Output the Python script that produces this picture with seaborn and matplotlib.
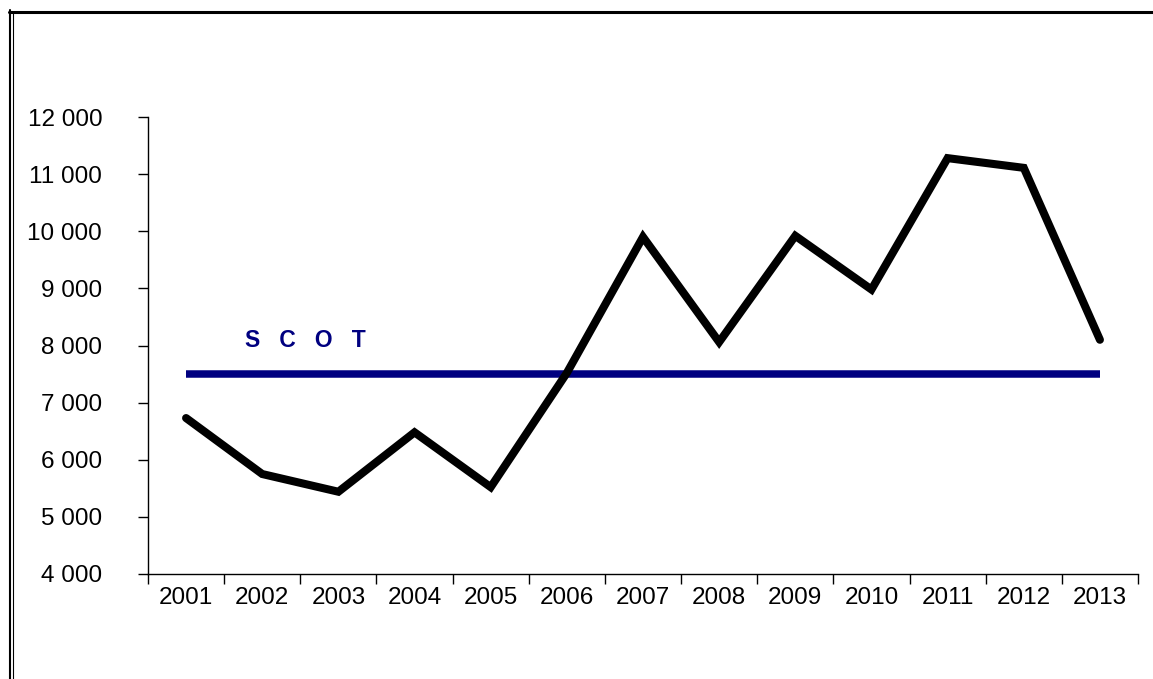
import numpy as np
import pandas as pd
import matplotlib
matplotlib.use("Agg")
import matplotlib.pyplot as plt
import seaborn as sns
from matplotlib.lines import Line2D
from matplotlib.ticker import FixedLocator, FuncFormatter

years = [2001, 2002, 2003, 2004, 2005, 2006, 2007, 2008, 2009, 2010, 2011, 2012, 2013]
values = [6730, 5750, 5440, 6480, 5520, 7520, 9900, 8060, 9920, 8980, 11280, 11110, 8100]
scot_level = 7500
scot_label = "S   C   O   T"
y_ticks = [4000, 5000, 6000, 7000, 8000, 9000, 10000, 11000, 12000]

sns.set_style("white")
plt.rcParams["font.family"] = ["Liberation Sans", "DejaVu Sans"]
plt.rcParams["text.color"] = "black"
plt.rcParams["xtick.color"] = "black"
plt.rcParams["ytick.color"] = "black"

df = pd.DataFrame({"year": years, "value": values})
scot = pd.DataFrame({"year": [years[0], years[-1]], "value": [scot_level, scot_level]})

fig = plt.figure(figsize=(11.53, 6.79), dpi=100)
ax = fig.add_axes([148 / 1153, 105 / 679, 990 / 1153, 457 / 679])

sns.lineplot(data=scot, x="year", y="value", color="#000080", linewidth=5.4,
             solid_capstyle="butt", ax=ax)
sns.lineplot(data=df, x="year", y="value", color="black", linewidth=5.8, sort=False,
             solid_capstyle="round", solid_joinstyle="miter", ax=ax)

ax.text(2001.77, 8080, scot_label, color="#000080", fontsize=16.5, fontweight="bold",
        ha="left", va="center")

ax.set_xlim(years[0] - 0.5, years[-1] + 0.5)
ax.set_ylim(y_ticks[0], y_ticks[-1])

# ticks on category boundaries, labels centred under each year
ax.xaxis.set_major_locator(FixedLocator(np.arange(years[0] - 0.5, years[-1] + 1, 1.0)))
ax.xaxis.set_major_formatter(FuncFormatter(lambda v, p: ""))
ax.xaxis.set_minor_locator(FixedLocator(years))
ax.xaxis.set_minor_formatter(FuncFormatter(lambda v, p: str(int(round(v)))))
ax.tick_params(axis="x", which="major", direction="out", length=7, width=1, color="black", bottom=True)
ax.tick_params(axis="x", which="minor", length=0, pad=9, labelsize=17.5, labelcolor="black", bottom=True)

ax.set_yticks(y_ticks)
ax.yaxis.set_major_formatter(FuncFormatter(lambda v, p: f"{v:,.0f}".replace(",", " ")))
ax.tick_params(axis="y", direction="out", length=7, width=1, color="black", left=True,
               pad=26, labelsize=17.5, labelcolor="black")

for s in ["top", "right"]:
    ax.spines[s].set_visible(False)
for s in ["left", "bottom"]:
    ax.spines[s].set_color("black")
    ax.spines[s].set_linewidth(1)

ax.set_xlabel("")
ax.set_ylabel("")
leg = ax.get_legend()
if leg:
    leg.remove()

# frame around the chart area (top edge and double left edge)
W, H = 1153, 679
fig.add_artist(Line2D([9 / W, 1], [1 - 11.5 / H, 1 - 11.5 / H], color="black", linewidth=2.2,
                      transform=fig.transFigure))
fig.add_artist(Line2D([10 / W, 10 / W], [0, 1 - 10 / H], color="black", linewidth=1.5,
                      transform=fig.transFigure))
fig.add_artist(Line2D([12.8 / W, 12.8 / W], [0, 1 - 12.5 / H], color="black", linewidth=0.8,
                      transform=fig.transFigure))

fig.savefig("out.png", dpi=100)
